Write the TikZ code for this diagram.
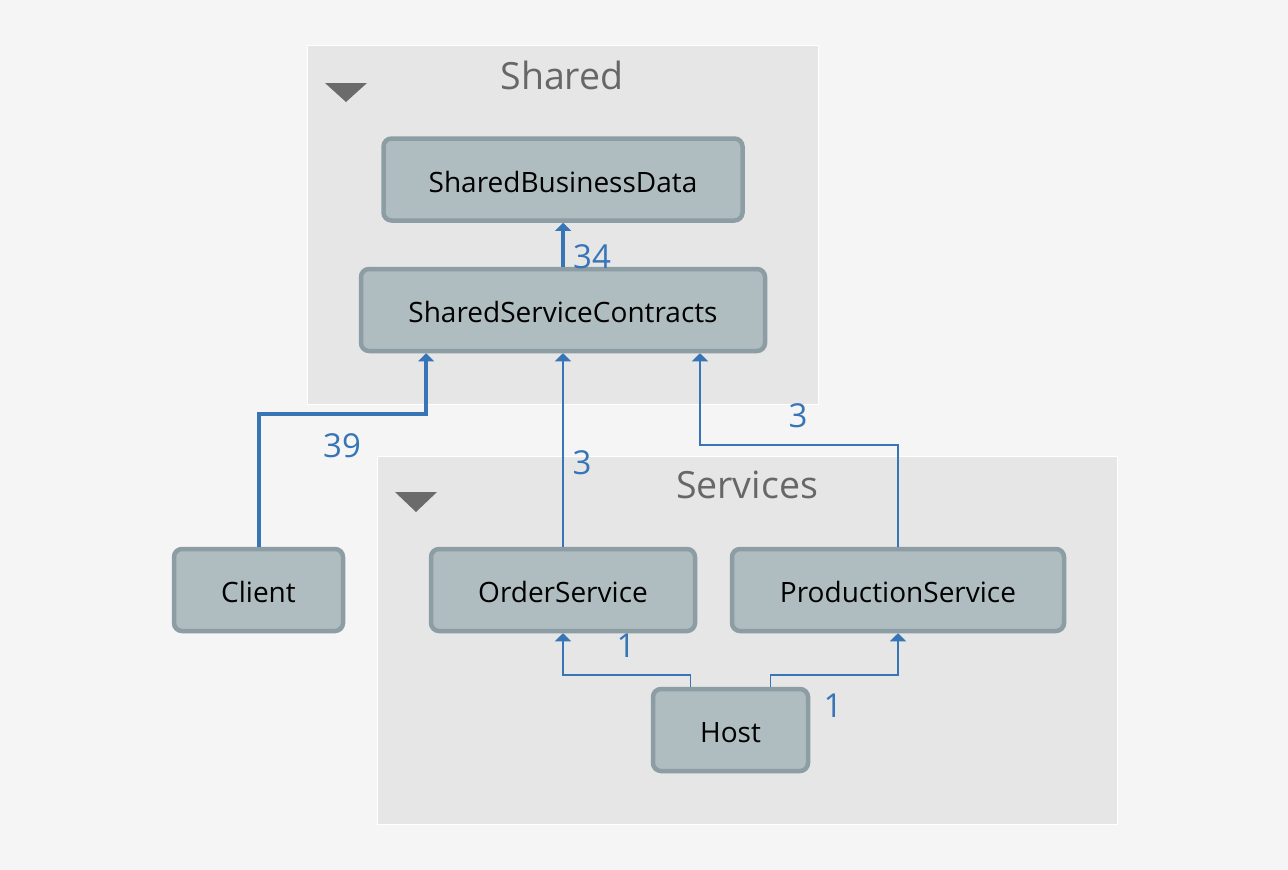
\documentclass[tikz,border=0pt]{standalone}
\usepackage{fontspec}
\setmainfont{Open Sans}
\usetikzlibrary{arrows.meta}
\definecolor{pagebg}{HTML}{F5F5F5}
\definecolor{grpfill}{HTML}{E6E6E6}
\definecolor{boxfill}{HTML}{B0BDC0}
\definecolor{boxline}{HTML}{8D9DA4}
\definecolor{depblue}{HTML}{3775B6}
\definecolor{titlegray}{HTML}{676767}
\definecolor{trigray}{HTML}{6B6B6B}

\begin{document}
\begin{tikzpicture}
[x=1pt,y=-1pt,
 group/.style={fill=grpfill,draw=white,line width=1pt},
 module/.style={draw=boxline,fill=boxfill,line width=4.5pt,rounded corners=8pt,inner sep=0pt,minimum height=82pt,text height=31pt,text depth=6pt,font=\fontsize{28}{32}\selectfont},
 grouptitle/.style={text=titlegray,inner sep=0pt,font=\fontsize{37.5}{42}\selectfont},
 dep/.style={draw=depblue,line width=1.6pt,-{Triangle[width=16pt,length=8pt]}},
 heavy/.style={draw=depblue,line width=4pt,-{Triangle[width=16pt,length=8pt,line width=0pt]}},
 count/.style={text=depblue,inner sep=0pt,font=\fontsize{33}{36}\selectfont}]
\fill [pagebg] (0,0) rectangle (1288,870);
\useasboundingbox (0,0) rectangle (1288,870);

% groups
\draw [group] (307,45) rectangle (818,404);
\node [grouptitle] (sharedtitle) at (562,75) {Shared};
\fill [trigray] (325,83) -- (367,83) -- (346,102) -- cycle;

\draw [group] (377,456) rectangle (1117,824);
\node [grouptitle] (servicestitle) at (747,485) {Services};
\fill [trigray] (395,492) -- (437,492) -- (416,512) -- cycle;

% modules
\node [module,minimum width=359pt] (sbd) at (563,179.5) {SharedBusinessData};
\node [module,minimum width=404pt] (ssc) at (563,310) {SharedServiceContracts};
\node [module,minimum width=169pt] (client) at (258.5,590) {Client};
\node [module,minimum width=264pt] (order) at (563,590) {OrderService};
\node [module,minimum width=332pt] (prod) at (898,590) {ProductionService};
\node [module,minimum width=155pt] (host) at (730.5,730) {Host};

% dependencies
\draw [heavy] (ssc.north) -- (sbd.south);
\draw [heavy] (client.north) |- (426,414) -- ([xshift=-137pt]ssc.south);
\draw [dep] (order.north) -- (ssc.south);
\draw [dep] (prod.north) |- (700,445) -- ([xshift=137pt]ssc.south);
\draw [dep] ([xshift=-40pt]host.north) |- (563,675) -- (order.south);
\draw [dep] ([xshift=40pt]host.north) |- (898,675) -- (prod.south);

\node [count] (n34) at (592,257) {34};
\node [count] (n39) at (342,446) {39};
\node [count] (n3a) at (582,463) {3};
\node [count] (n3b) at (798,416) {3};
\node [count] (n1a) at (626,646) {1};
\node [count] (n1b) at (833,706) {1};
\end{tikzpicture}
\end{document}
